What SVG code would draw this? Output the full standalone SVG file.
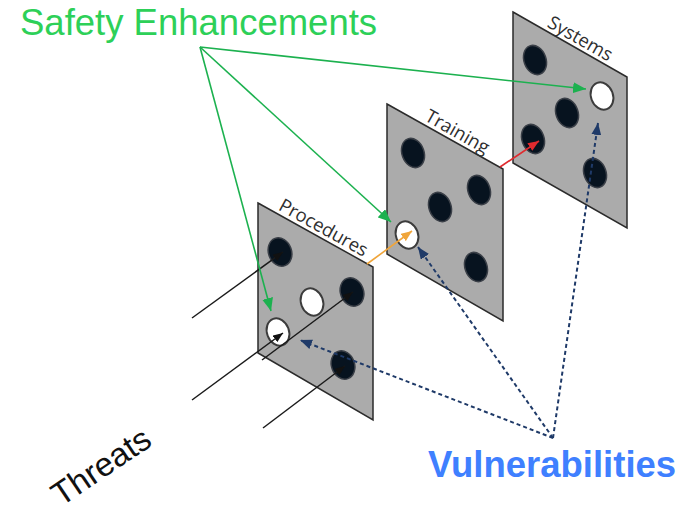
<svg xmlns="http://www.w3.org/2000/svg" width="691" height="516" viewBox="0 0 691 516">
  <style>
    .panel { fill: #ababab; stroke: #2b2b2b; stroke-width: 1.5; stroke-linejoin: miter; }
    .hole { fill: #07131f; stroke: #3a3f47; stroke-width: 1.5; }
    .open { fill: #ffffff; stroke: #3c3c3c; stroke-width: 2; }
    .plabel { font-family: "Open Sans", "Noto Sans", sans-serif; font-size: 18.5px; fill: #2f2f2f; }
    .green { stroke: #1cb14f; stroke-width: 1.6; fill: none; }
    .blue { stroke: #1f3a68; stroke-width: 2; stroke-dasharray: 4 3; fill: none; }
    .threat { stroke: #1a1a1a; stroke-width: 1.5; fill: none; }
    .orange { stroke: #f0a53a; stroke-width: 1.6; fill: none; }
    .red { stroke: #e02a2e; stroke-width: 1.6; fill: none; }
  </style>
  <defs>
    <marker id="ahGreen" markerUnits="userSpaceOnUse" markerWidth="13" markerHeight="11" refX="13" refY="5.5" orient="auto">
      <path d="M0,0 L13,5.5 L0,11 z" fill="#1cb14f"/>
    </marker>
    <marker id="ahBlue" markerUnits="userSpaceOnUse" markerWidth="12" markerHeight="10" refX="12" refY="5" orient="auto">
      <path d="M0,0 L12,5 L0,10 z" fill="#1f3a68"/>
    </marker>
    <marker id="ahBlack" markerUnits="userSpaceOnUse" markerWidth="10" markerHeight="8" refX="10" refY="4" orient="auto">
      <path d="M0,0 L10,4 L0,8 z" fill="#111111"/>
    </marker>
    <marker id="ahOrange" markerUnits="userSpaceOnUse" markerWidth="11" markerHeight="9" refX="11" refY="4.5" orient="auto">
      <path d="M0,0 L11,4.5 L0,9 z" fill="#f0a53a"/>
    </marker>
    <marker id="ahRed" markerUnits="userSpaceOnUse" markerWidth="11" markerHeight="9" refX="11" refY="4.5" orient="auto">
      <path d="M0,0 L11,4.5 L0,9 z" fill="#e02a2e"/>
    </marker>
  </defs>

  <!-- Systems layer -->
  <g id="systems">
    <polygon class="panel" points="513,12 627,77 627,228 513,163"/>
    <ellipse class="hole" cx="535" cy="60" rx="11" ry="15" transform="rotate(-20 535 60)"/>
    <ellipse class="open" cx="602" cy="96" rx="11" ry="14" transform="rotate(-20 602 96)"/>
    <ellipse class="hole" cx="567" cy="113" rx="11" ry="15" transform="rotate(-20 567 113)"/>
    <ellipse class="hole" cx="533" cy="139" rx="11" ry="15" transform="rotate(-20 533 139)"/>
    <ellipse class="hole" cx="595" cy="173" rx="11" ry="15" transform="rotate(-20 595 173)"/>
    <text class="plabel" transform="translate(513,12) rotate(29.7)" x="36" y="-4">Systems</text>
  </g>

  <!-- Training layer -->
  <g id="training">
    <polygon class="panel" points="387,104 503,169 503,321 387,254"/>
    <ellipse class="hole" cx="413" cy="153" rx="11" ry="15" transform="rotate(-20 413 153)"/>
    <ellipse class="hole" cx="479" cy="190" rx="11" ry="15" transform="rotate(-20 479 190)"/>
    <ellipse class="hole" cx="440" cy="207" rx="11" ry="15" transform="rotate(-20 440 207)"/>
    <ellipse class="open" cx="407" cy="235" rx="11" ry="14" transform="rotate(-20 407 235)"/>
    <ellipse class="hole" cx="476" cy="267" rx="11" ry="15" transform="rotate(-20 476 267)"/>
    <text class="plabel" transform="translate(387,104) rotate(29.3)" x="40" y="-4">Training</text>
  </g>

  <!-- Procedures layer -->
  <g id="procedures">
    <polygon class="panel" points="258,203 373,267 373,420 258,353"/>
    <ellipse class="hole" cx="280" cy="252" rx="11.5" ry="14.5" transform="rotate(-20 280 252)"/>
    <ellipse class="open" cx="312" cy="302" rx="11" ry="14" transform="rotate(-20 312 302)"/>
    <ellipse class="hole" cx="352" cy="292" rx="11.5" ry="14.5" transform="rotate(-20 352 292)"/>
    <ellipse class="open" cx="278" cy="332" rx="11" ry="14" transform="rotate(-20 278 332)"/>
    <ellipse class="hole" cx="343" cy="365" rx="11.5" ry="14.5" transform="rotate(-20 343 365)"/>
    <text class="plabel" transform="translate(258,203) rotate(29.1)" x="20" y="-4">Procedures</text>
  </g>

  <!-- Connectors -->
  <g id="connectors">
    <!-- threats -->
    <line class="threat" x1="192" y1="318" x2="283" y2="252" marker-end="url(#ahBlack)"/>
    <line class="threat" x1="192" y1="400" x2="283" y2="333" marker-end="url(#ahBlack)"/>
    <line class="threat" x1="262" y1="360" x2="353" y2="292" marker-end="url(#ahBlack)"/>
    <line class="threat" x1="263" y1="428" x2="345" y2="366" marker-end="url(#ahBlack)"/>
    <!-- safety enhancements -->
    <line class="green" x1="200" y1="47" x2="271" y2="311" marker-end="url(#ahGreen)"/>
    <line class="green" x1="200" y1="47" x2="391" y2="222" marker-end="url(#ahGreen)"/>
    <line class="green" x1="200" y1="47" x2="586" y2="89" marker-end="url(#ahGreen)"/>
    <!-- layer to layer -->
    <line class="orange" x1="367" y1="264" x2="412" y2="231" marker-end="url(#ahOrange)"/>
    <line class="red" x1="500" y1="167" x2="539" y2="141" marker-end="url(#ahRed)"/>
    <!-- vulnerabilities -->
    <line class="blue" x1="553" y1="438" x2="300" y2="340" marker-end="url(#ahBlue)"/>
    <line class="blue" x1="553" y1="438" x2="418" y2="247" marker-end="url(#ahBlue)"/>
    <line class="blue" x1="553" y1="438" x2="598" y2="123" marker-end="url(#ahBlue)"/>
  </g>

  <!-- Titles -->
  <text x="20" y="35" font-family="Liberation Sans, Arial, sans-serif" font-size="36.5" fill="#2dd058">Safety Enhancements</text>
  <text x="428" y="477" font-family="Liberation Sans, Arial, sans-serif" font-size="36.5" font-weight="bold" fill="#3f80ff">Vulnerabilities</text>
  <text transform="translate(61,507) rotate(-34)" font-family="Liberation Sans, Arial, sans-serif" font-size="33" fill="#111111">Threats</text>
</svg>
